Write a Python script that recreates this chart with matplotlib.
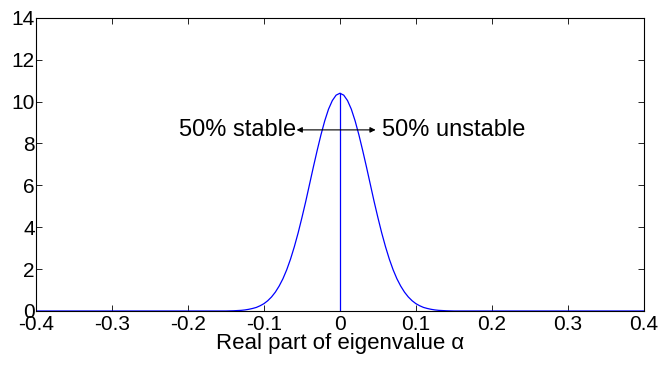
import numpy as np
import matplotlib
matplotlib.use("Agg")
import matplotlib.pyplot as plt

plt.rcParams['font.family'] = ['Liberation Sans', 'DejaVu Sans']
plt.rcParams['axes.unicode_minus'] = False

# valeurs (densité des parties réelles)
x_vals = [-0.4, -0.15, -0.14, -0.13, -0.125, -0.12, -0.115, -0.11, -0.105, -0.1,
          -0.095, -0.09, -0.085, -0.08, -0.075, -0.07, -0.065, -0.06, -0.055, -0.05,
          -0.045, -0.04, -0.035, -0.03, -0.025, -0.02, -0.015, -0.01, -0.005, 0.0,
          0.005, 0.01, 0.015, 0.02, 0.025, 0.03, 0.035, 0.04, 0.045, 0.05,
          0.055, 0.06, 0.065, 0.07, 0.075, 0.08, 0.085, 0.09, 0.095, 0.1,
          0.105, 0.11, 0.115, 0.12, 0.125, 0.13, 0.14, 0.15, 0.4]
densite = [0.0, 0.0, 0.01, 0.03, 0.05, 0.08, 0.12, 0.17, 0.25, 0.35,
           0.49, 0.67, 0.90, 1.19, 1.54, 1.97, 2.48, 3.07, 3.73, 4.46,
           5.23, 6.05, 6.87, 7.66, 8.41, 9.08, 9.64, 10.05, 10.31, 10.4,
           10.31, 10.05, 9.64, 9.08, 8.41, 7.66, 6.87, 6.05, 5.23, 4.46,
           3.73, 3.07, 2.48, 1.97, 1.54, 1.19, 0.90, 0.67, 0.49, 0.35,
           0.25, 0.17, 0.12, 0.08, 0.05, 0.03, 0.01, 0.0, 0.0]
pic = 10.4
fleche_y = 8.65
fleche_x = (-0.057, 0.047)

fig = plt.figure(figsize=(6.61, 3.65), dpi=100)
ax = fig.add_axes([0.0545, 0.148, 0.9195, 0.803])

ax.plot(x_vals, densite, color="blue", linewidth=0.9)
ax.plot([0, 0], [0, pic], color="blue", linewidth=0.9)

ax.annotate("", xy=(fleche_x[0], fleche_y), xytext=(fleche_x[1], fleche_y),
            arrowprops=dict(arrowstyle="<|-|>", color="black", lw=0.8,
                            mutation_scale=8, shrinkA=0, shrinkB=0))
ax.text(fleche_x[0] - 0.001, fleche_y, "50% stable", ha="right", va="center", fontsize=17)
ax.text(fleche_x[1] + 0.009, fleche_y, "50% unstable", ha="left", va="center", fontsize=17)

ax.set_xlim(-0.4, 0.4)
ax.set_ylim(0, 14)
ax.set_xticks(np.arange(-0.4, 0.41, 0.1))
ax.set_xticklabels(["-0.4", "-0.3", "-0.2", "-0.1", "0", "0.1", "0.2", "0.3", "0.4"])
ax.set_yticks(np.arange(0, 15, 2))
ax.tick_params(direction="in", top=True, right=True, labelsize=15, length=4, width=0.6)
ax.tick_params(axis="y", pad=1)
ax.tick_params(axis="x", pad=3)
for s in ax.spines.values():
    s.set_linewidth(0.8)
ax.set_xlabel("Real part of eigenvalue α", fontsize=16, labelpad=-1)

fig.savefig("out.png", dpi=100)
